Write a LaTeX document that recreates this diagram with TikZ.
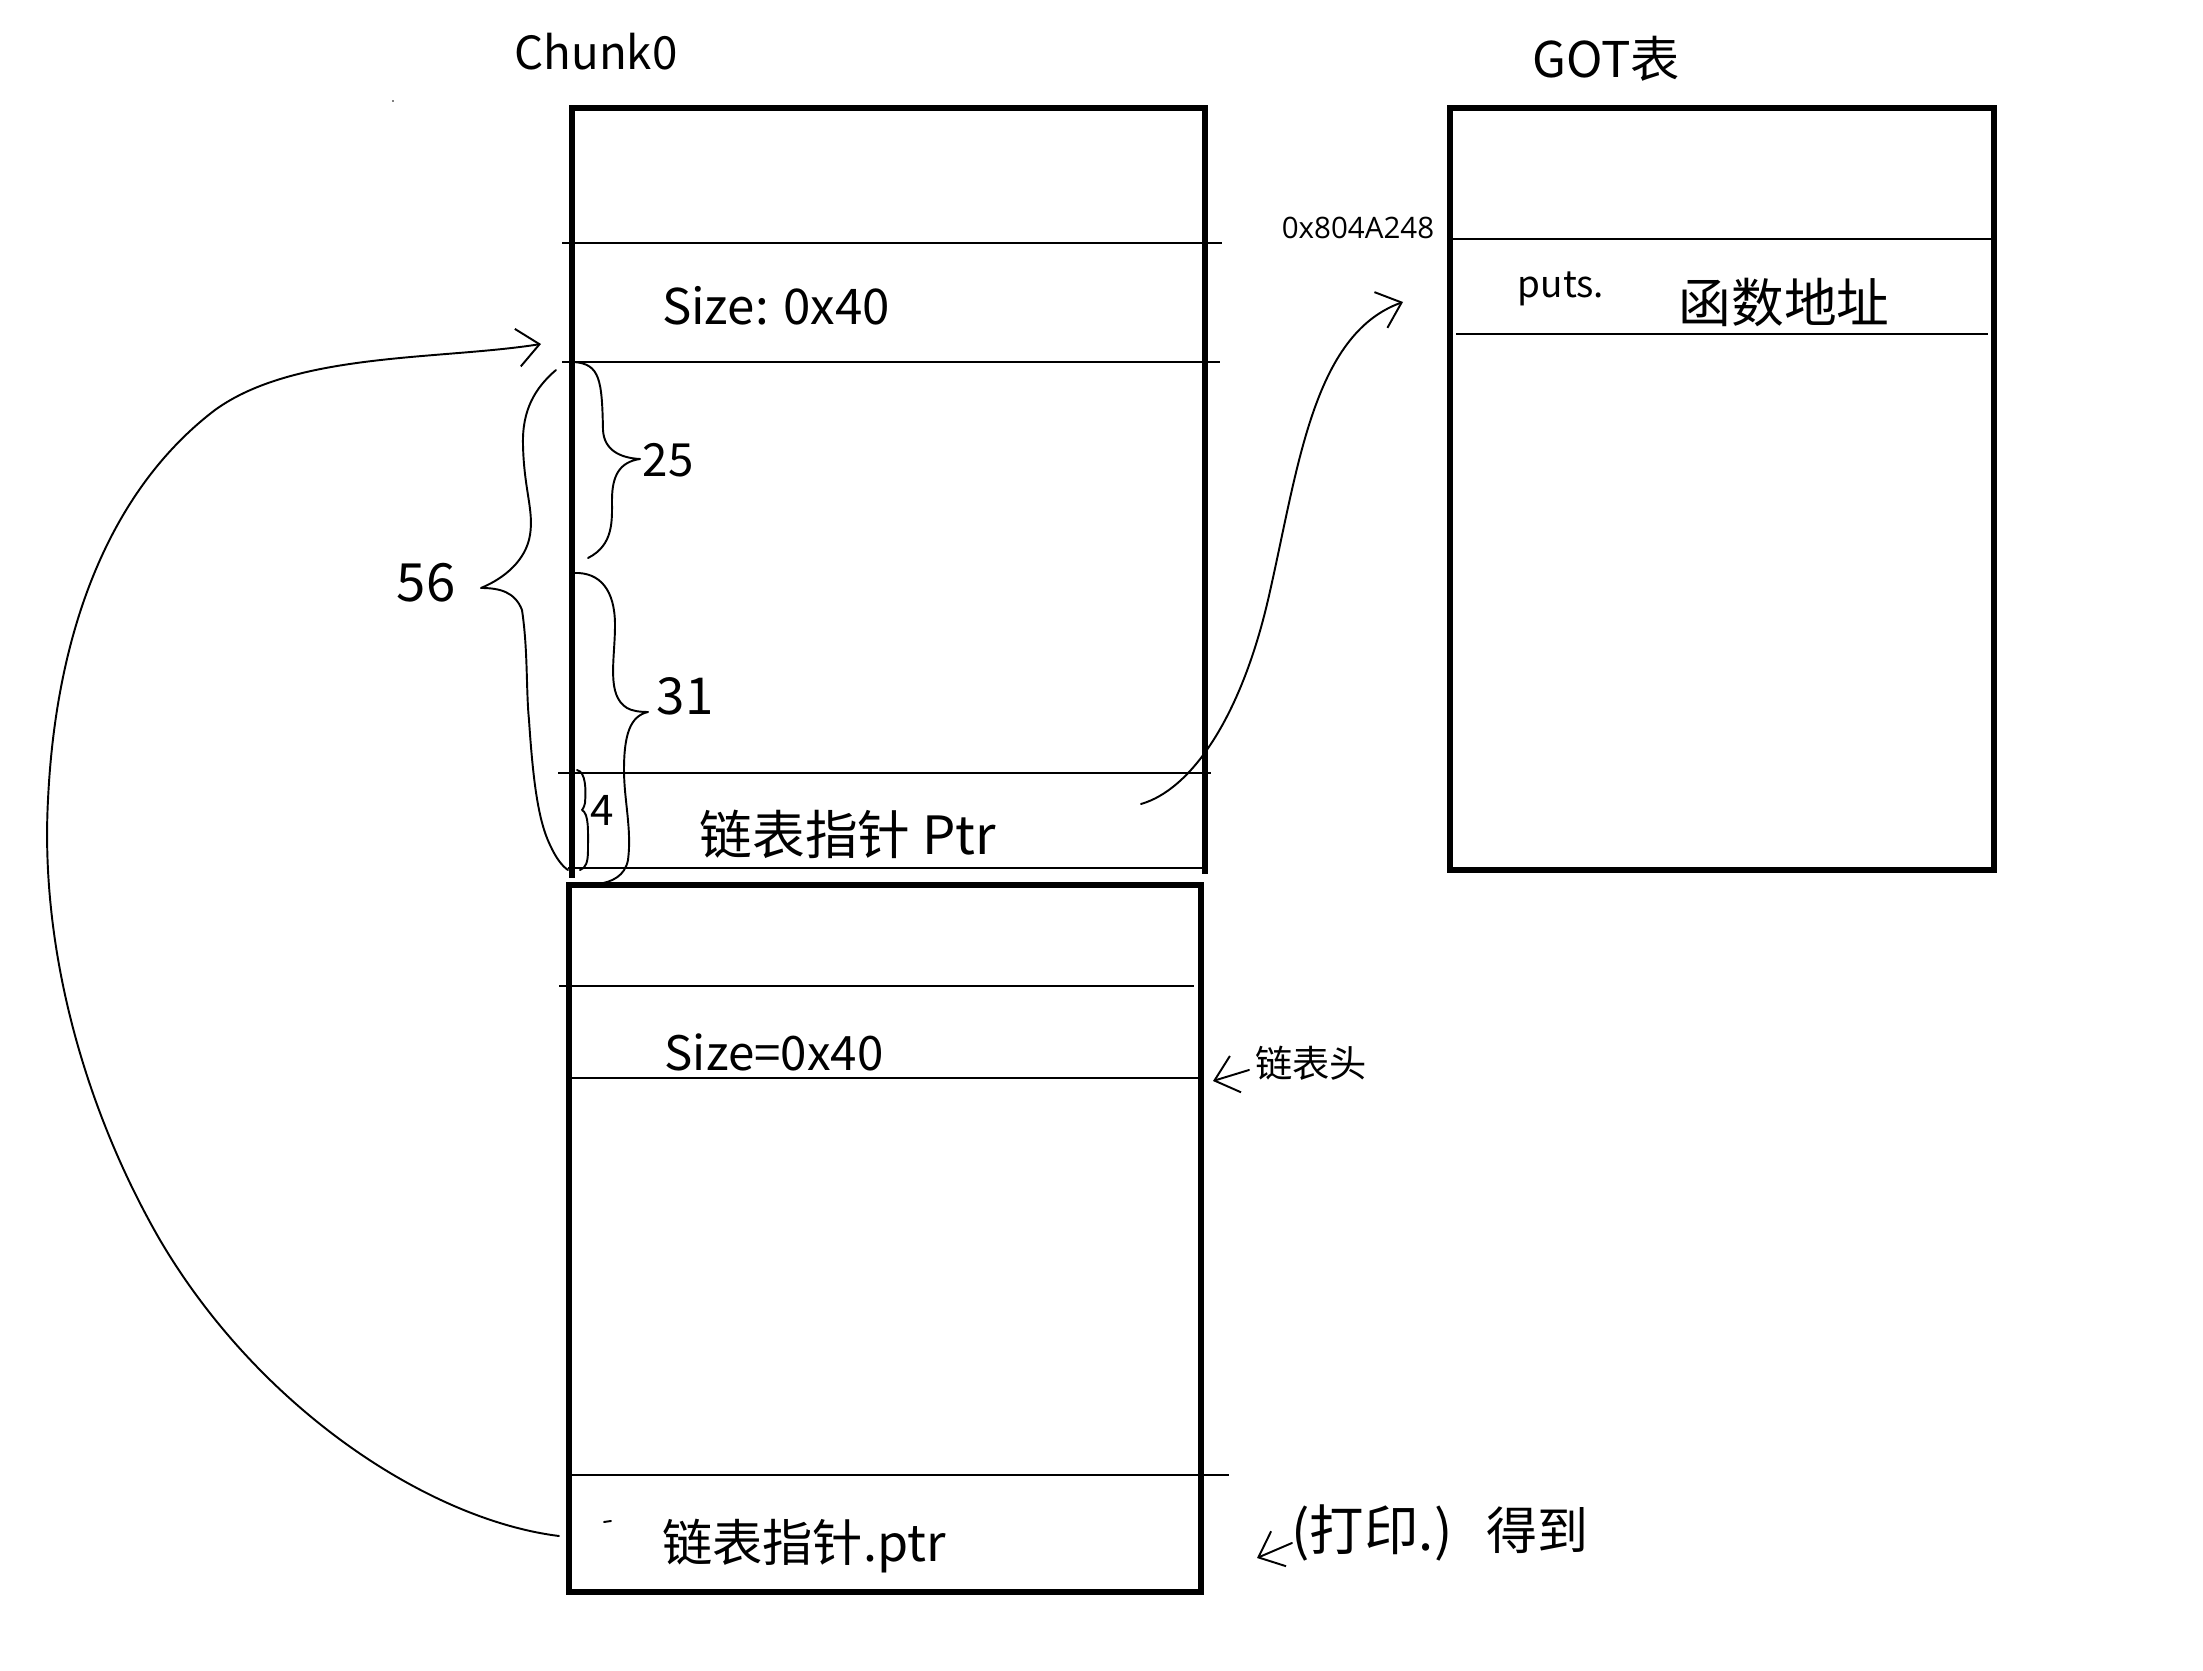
\documentclass[tikz,border=0pt]{standalone}
\usepackage{fontspec}
\setmainfont{Noto Sans CJK SC}
\newfontfamily\uifont{Open Sans}
\usetikzlibrary{arrows.meta}
\tikzset{
  box/.style={line width=1.6pt, line join=miter},
  rowline/.style={line width=0.55pt},
  hand/.style={line width=0.55pt, line cap=round, line join=round},
  harrow/.style={hand, -{Straight Barb[length=2.2mm,width=3.8mm,line width=0.55pt]}},
  lbl/.style={inner sep=0pt, anchor=center},
}
\newcommand{\fs}[1]{\fontsize{#1}{#1}\selectfont}
\begin{document}
\begin{tikzpicture}[x=0.1mm,y=-0.1mm]
\useasboundingbox (0,0) rectangle (2203,1671);
\fill[white] (0,0) rectangle (2203,1671);

% ---- Chunk0 ----
\draw[box] (572,878) -- (572,108) -- (1205,108) -- (1205,874);
\draw[rowline] (562,243) -- (1222,243);
\draw[rowline] (562,362) -- (1220,362);
\draw[rowline] (558,773) -- (1211,773);
\draw[rowline] (568,868) -- (1205,868);

% ---- Chunk1 ----
\draw[box] (569,885) rectangle (1201,1592);
\draw[rowline] (559,986) -- (1194,986);
\draw[rowline] (566,1078) -- (1201,1078);
\draw[rowline] (569,1475) -- (1229,1475);
\draw[hand] (604,1522) -- (611,1521);

% ---- GOT ----
\draw[box] (1450,108) rectangle (1994,870);
\draw[rowline] (1450,239) -- (1994,239);
\draw[rowline] (1456,334) -- (1988,334);

% ---- titles ----
\node[lbl, font=\fs{13pt}] (tchunk) at (596,52) {Chunk0};
\node[lbl, font=\fs{14pt}] (tgot) at (1606,59) {GOT表};

% ---- texts ----
\node[lbl, font=\uifont\fs{8.4pt}] (addr) at (1358,228) {0x804A248};
\node[lbl, font=\fs{10.5pt}] (puts) at (1561,289) {puts.};
\node[lbl, font=\fs{15pt}] (func) at (1784,303) {函数地址};
\node[lbl, font=\fs{14pt}] (size0) at (776,306) {Size: 0x40};
\node[lbl, font=\fs{15pt}] (ptr0) at (848,834) {链表指针 Ptr};
\node[lbl, font=\fs{13.5pt}] (size1) at (774,1052) {Size=0x40};
\node[lbl, font=\fs{10.6pt}] (head) at (1311,1063) {链表头};
\node[lbl, font=\fs{14.3pt}] (ptr1) at (804,1546) {链表指针.ptr};
\node[lbl, font=\fs{15.5pt}] (print) at (1372,1533) {(打印.)};
\node[lbl, font=\fs{14.5pt}] (got) at (1537,1530) {得到};

% ---- braces ----
\draw[hand] (574,362) .. controls (600,364) and (602,380) .. (603,430)
  .. controls (604,450) and (620,458) .. (640,459)
  .. controls (620,462) and (612,475) .. (612,500)
  .. controls (612,520) and (614,545) .. (588,558);
\node[lbl, font=\fs{13pt}] (n25) at (668,460) {25};

\draw[hand] (574,573) .. controls (600,572) and (615,590) .. (615,625)
  .. controls (615,660) and (606,695) .. (627,708)
  .. controls (632,711) and (640,712) .. (648,712)
  .. controls (630,716) and (624,735) .. (624,770)
  .. controls (624,800) and (632,830) .. (628,860)
  .. controls (625,876) and (612,882) .. (598,884);
\node[lbl, font=\fs{14.5pt}] (n31) at (685,696) {31};

\draw[hand] (577,770) .. controls (586,772) and (586,790) .. (585,803)
  .. controls (584,808) and (582,810) .. (582,810)
  .. controls (589,814) and (588,830) .. (588,850)
  .. controls (588,862) and (586,868) .. (580,870);
\node[lbl, font=\fs{12pt}] (n4) at (602,810) {4};

\draw[hand] (556,370) .. controls (535,388) and (522,410) .. (523,445)
  .. controls (524,490) and (534,510) .. (530,535)
  .. controls (526,560) and (505,578) .. (481,588)
  .. controls (500,588) and (515,592) .. (522,610)
  .. controls (528,650) and (526,690) .. (529,720)
  .. controls (533,780) and (538,820) .. (550,845)
  .. controls (556,858) and (562,866) .. (568,870);
\node[lbl, font=\fs{15pt}] (n56) at (426,583) {56};

% ---- connectors ----
\coordinate (ptr1start) at (559,1536);
\coordinate (chunk0mem) at (541,344);
\draw[harrow] (ptr1start) .. controls (430,1520) and (260,1410) .. (160,1240)
  .. controls (85,1110) and (40,950) .. (48,800)
  .. controls (56,630) and (110,490) .. (215,410)
  .. controls (295,352) and (440,360) .. (chunk0mem);

\coordinate (ptr0start) at (1141,804);
\coordinate (gotentry) at (1403,302);
\draw[harrow] (ptr0start) .. controls (1190,790) and (1240,720) .. (1268,600)
  .. controls (1298,470) and (1312,335) .. (gotentry);

\coordinate (headfrom) at (1249,1070);
\coordinate (headto) at (1213,1081);
\draw[harrow] (headfrom) -- (headto);

\coordinate (printfrom) at (1292,1543);
\coordinate (printto) at (1257,1558);
\draw[harrow] (printfrom) -- (printto);

\fill (393,101) circle (0.8);
\end{tikzpicture}
\end{document}
